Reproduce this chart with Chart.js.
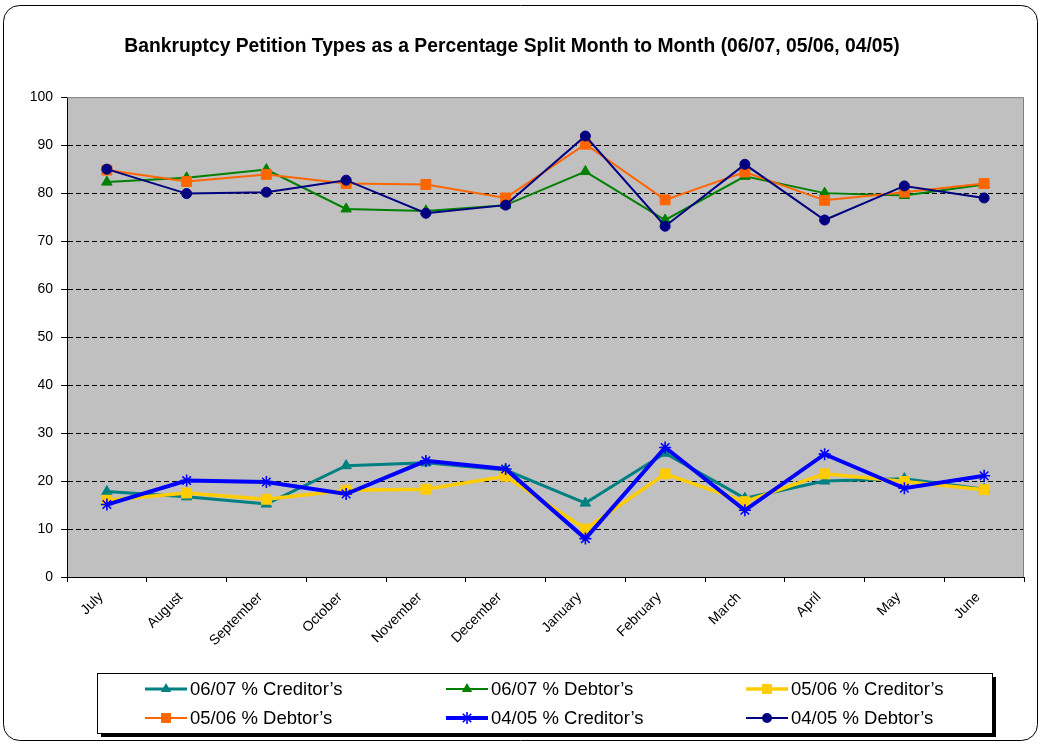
<!DOCTYPE html>
<html>
<head>
<meta charset="utf-8">
<title>Bankruptcy Petition Types</title>
<script src="https://cdn.jsdelivr.net/npm/chart.js@4/dist/chart.umd.min.js"></script>
<style>
  html, body { margin: 0; padding: 0; background: #fff; }
  #wrap { width: 1040px; height: 745px; }
</style>
</head>
<body>
<div id="wrap"><canvas id="petitionChart" width="1040" height="745"></canvas></div>
<script>
// -----------------------
// Data
// -----------------------
const months = ['July', 'August', 'September', 'October', 'November', 'December',
  'January', 'February', 'March', 'April', 'May', 'June'];
const yTicks = [0, 10, 20, 30, 40, 50, 60, 70, 80, 90, 100];

const creditor0607 = [17.8, 16.7, 15.2, 23.2, 23.8, 22.3, 15.4, 25.8, 16.4, 20.0, 20.5, 18.3];
const debtor0607   = [82.3, 83.2, 84.9, 76.7, 76.3, 77.5, 84.5, 74.4, 83.5, 80.0, 79.5, 81.8];
const creditor0506 = [16.0, 17.5, 16.2, 18.1, 18.3, 21.0, 10.0, 21.5, 15.7, 21.5, 19.9, 18.2];
const debtor0506   = [84.8, 82.4, 83.9, 82.0, 81.8, 79.0, 90.2, 78.6, 84.4, 78.5, 80.2, 82.0];
const creditor0405 = [15.1, 20.1, 19.8, 17.3, 24.2, 22.5, 8.0, 27.0, 13.9, 25.6, 18.5, 21.1];
const debtor0405   = [85.0, 79.9, 80.2, 82.7, 75.8, 77.5, 91.9, 73.1, 86.0, 74.4, 81.5, 79.0];

const seriesLabels = ['06/07 % Creditor’s', '06/07 % Debtor’s', '05/06 % Creditor’s',
  '05/06 % Debtor’s', '04/05 % Creditor’s', '04/05 % Debtor’s'];

const fontFamily = 'Arial, "Liberation Sans", sans-serif';

// line look for each series
function makeSeries(i, data, color, width, style, radius) {
  return {
    label: seriesLabels[i],
    data: data,
    borderColor: color,
    backgroundColor: color,
    borderWidth: width,
    pointStyle: style,
    pointRadius: radius,
    pointHoverRadius: radius,
    pointBorderWidth: style === 'star' ? 1.6 : 1,
    tension: 0,
    order: 5 - i // later series sit on top, like the original
  };
}

const datasets = [
  makeSeries(0, creditor0607, '#008080', 3, 'triangle', 6),
  makeSeries(1, debtor0607, '#008000', 2, 'triangle', 6),
  makeSeries(2, creditor0506, '#FFCC00', 3.5, 'rect', 7),
  makeSeries(3, debtor0506, '#FF6600', 2, 'rect', 7),
  makeSeries(4, creditor0405, '#0000FF', 4, 'star', 6),
  makeSeries(5, debtor0405, '#000080', 2, 'circle', 5)
];

// -----------------------
// Frame, plot background and the boxed legend
// -----------------------
function roundRect(ctx, x, y, w, h, r) {
  ctx.beginPath();
  ctx.moveTo(x + r, y);
  ctx.lineTo(x + w - r, y);
  ctx.arcTo(x + w, y, x + w, y + r, r);
  ctx.lineTo(x + w, y + h - r);
  ctx.arcTo(x + w, y + h, x + w - r, y + h, r);
  ctx.lineTo(x + r, y + h);
  ctx.arcTo(x, y + h, x, y + h - r, r);
  ctx.lineTo(x, y + r);
  ctx.arcTo(x, y, x + r, y, r);
  ctx.closePath();
}

function drawMarker(ctx, style, x, y, r) {
  ctx.beginPath();
  if (style === 'circle') {
    ctx.arc(x, y, r, 0, Math.PI * 2);
    ctx.fill();
  } else if (style === 'rect') {
    const s = r * Math.SQRT1_2;
    ctx.fillRect(x - s, y - s, s * 2, s * 2);
  } else if (style === 'triangle') {
    ctx.moveTo(x, y - r);
    ctx.lineTo(x + r * 0.866, y + r * 0.5);
    ctx.lineTo(x - r * 0.866, y + r * 0.5);
    ctx.closePath();
    ctx.fill();
  } else if (style === 'star') {
    ctx.lineWidth = 1.6;
    ctx.moveTo(x - r, y); ctx.lineTo(x + r, y);
    ctx.moveTo(x, y - r); ctx.lineTo(x, y + r);
    const d = r * Math.SQRT1_2;
    ctx.moveTo(x - d, y - d); ctx.lineTo(x + d, y + d);
    ctx.moveTo(x - d, y + d); ctx.lineTo(x + d, y - d);
    ctx.stroke();
  }
}

const framePlugin = {
  id: 'frame',
  beforeDraw(chart) {
    const ctx = chart.ctx;
    const a = chart.chartArea;
    ctx.save();
    ctx.fillStyle = '#fff';
    ctx.fillRect(0, 0, chart.width, chart.height);
    roundRect(ctx, 3.5, 5.5, 1034, 735, 16);
    ctx.strokeStyle = '#000';
    ctx.lineWidth = 1;
    ctx.stroke();
    ctx.fillStyle = '#C0C0C0';
    ctx.fillRect(a.left, a.top, a.right - a.left, a.bottom - a.top);
    ctx.restore();
  },
  beforeDatasetsDraw(chart) {
    const ctx = chart.ctx;
    const a = chart.chartArea;
    ctx.save();
    ctx.strokeStyle = '#808080';
    ctx.lineWidth = 1;
    ctx.beginPath();
    ctx.moveTo(a.left, a.top + 0.5);
    ctx.lineTo(a.right - 0.5, a.top + 0.5);
    ctx.lineTo(a.right - 0.5, a.bottom);
    ctx.stroke();
    ctx.restore();
  },
  afterDraw(chart) {
    const ctx = chart.ctx;
    const box = { x: 97, y: 673, w: 895, h: 60 };
    const colX = [145, 446, 746];
    const rowY = [689, 718];
    ctx.save();
    ctx.fillStyle = '#000';
    ctx.fillRect(box.x + 4, box.y + 4, box.w, box.h);
    ctx.fillStyle = '#fff';
    ctx.fillRect(box.x, box.y, box.w, box.h);
    ctx.strokeStyle = '#000';
    ctx.lineWidth = 1;
    ctx.strokeRect(box.x + 0.5, box.y + 0.5, box.w, box.h);

    ctx.font = '18.5px ' + fontFamily;
    ctx.textBaseline = 'middle';
    chart.data.datasets.forEach((ds, i) => {
      const x = colX[i % 3];
      const y = rowY[Math.floor(i / 3)];
      ctx.strokeStyle = ds.borderColor;
      ctx.fillStyle = ds.borderColor;
      ctx.lineWidth = ds.borderWidth;
      ctx.beginPath();
      ctx.moveTo(x, y);
      ctx.lineTo(x + 42, y);
      ctx.stroke();
      drawMarker(ctx, ds.pointStyle, x + 21, y, ds.pointRadius);
      ctx.fillStyle = '#000';
      ctx.fillText(ds.label, x + 45, y + 1);
    });
    ctx.restore();
  }
};

// -----------------------
// Chart configuration
// -----------------------
const petitionConfig = {
  type: 'line',
  data: { labels: months, datasets: datasets },
  options: {
    responsive: false,
    animation: false,
    events: [],
    layout: { padding: { left: 0, right: 16, top: 0, bottom: 0 } },
    scales: {
      x: {
        offset: true,
        grid: {
          offset: true,
          drawOnChartArea: false,
          drawTicks: true,
          tickLength: 5,
          tickColor: '#000'
        },
        border: { display: true, color: '#000', width: 1 },
        ticks: {
          color: '#000',
          font: { family: fontFamily, size: 14 },
          maxRotation: 45,
          minRotation: 45,
          autoSkip: false,
          padding: 7,
          labelOffset: -6
        },
        afterFit(scale) { scale.height = 168; }
      },
      y: {
        min: 0,
        max: 100,
        afterBuildTicks(scale) { scale.ticks = yTicks.map(v => ({ value: v })); },
        grid: {
          color: ctx => (ctx.tick && (ctx.tick.value === 0 || ctx.tick.value === 100)) ? 'rgba(0,0,0,0)' : '#000',
          lineWidth: 1,
          drawTicks: true,
          tickLength: 6,
          tickColor: '#000',
          tickBorderDash: [1, 0]
        },
        border: { display: true, color: '#000', width: 1, dash: [5, 3] },
        ticks: {
          color: '#000',
          font: { family: fontFamily, size: 14 },
          padding: 8
        },
        afterFit(scale) { scale.width = 67; }
      }
    },
    plugins: {
      legend: { display: false },
      tooltip: { enabled: false },
      title: {
        display: true,
        text: 'Bankruptcy Petition Types as a Percentage Split Month to Month (06/07, 05/06, 04/05)',
        color: '#000',
        font: { family: fontFamily, size: 19.3, weight: 'bold' },
        padding: { top: 35, bottom: 39 }
      }
    }
  },
  plugins: [framePlugin]
};

const petitionChart = new Chart(
  document.getElementById('petitionChart'),
  petitionConfig
);
</script>
</body>
</html>
